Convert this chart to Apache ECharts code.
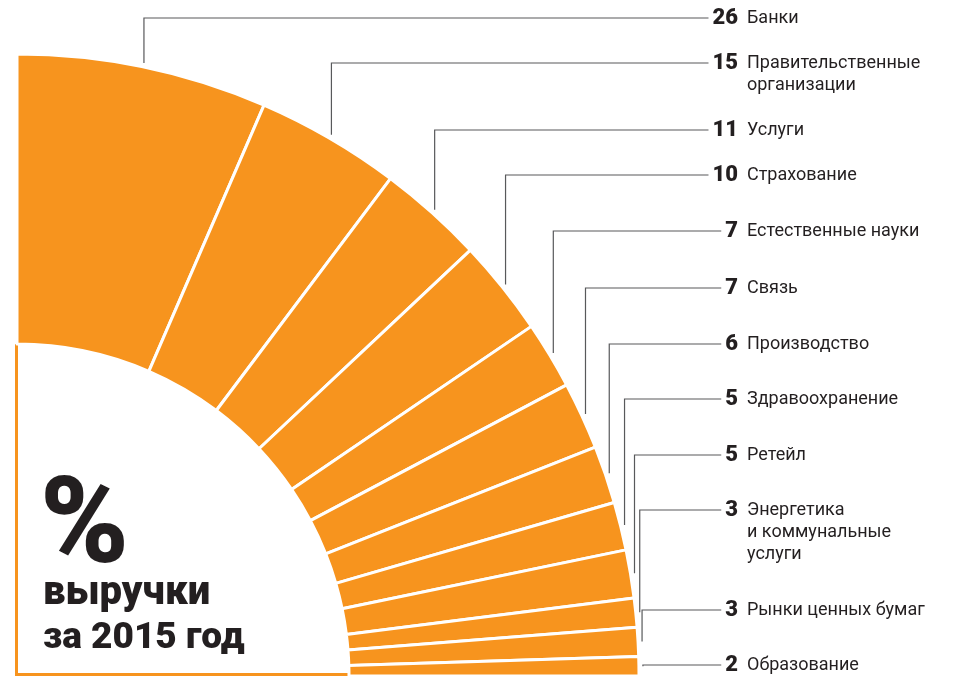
<!DOCTYPE html>
<html>
<head>
<meta charset="utf-8">
<script src="https://cdn.jsdelivr.net/npm/echarts@6/dist/echarts.min.js"></script>
<style>
html,body{margin:0;padding:0;background:#fff;}
#wrap{width:954px;height:676px;}
</style>
</head>
<body>
<div id="wrap"></div>
<script>
// доля выручки по отраслям, %
var sectors = ['Банки', 'Правительственные\nорганизации', 'Услуги', 'Страхование',
    'Естественные науки', 'Связь', 'Производство', 'Здравоохранение', 'Ретейл',
    'Энергетика\nи коммунальные\nуслуги', 'Рынки ценных бумаг', 'Образование'];
var shares = [26, 15, 11, 10, 7, 7, 6, 5, 5, 3, 3, 2];

// где стоят подписи справа (y первой строки)
var labelY = [18, 63, 130, 175, 231, 288, 344, 399, 455, 510, 610, 665];

var orange = '#f7941e';
var ink = '#231f20';
var cx = 17, cy = 676;
var numRight = 738, numCol = 42, gap = 9;
var numFont = '900 22px Roboto';

var ctx = document.createElement('canvas').getContext('2d');
ctx.font = numFont;
function numW(v) {
    return ctx.measureText(String(v)).width;
}

var myChart = echarts.init(document.getElementById('wrap'));

var data = [];
sectors.forEach(function(name, i) {
    data.push({name: name, value: shares[i]});
});

var rich = {
    t: {fontFamily: 'Roboto', fontSize: 18, color: ink, lineHeight: 22,
        padding: [0, 0, 0, gap]},
    t2: {fontFamily: 'Roboto', fontSize: 18, color: ink, lineHeight: 22,
        padding: [0, 0, 0, numCol + gap]}
};
// число прижато вправо к колонке шириной numCol
shares.forEach(function(v) {
    var key = 'n' + String(v).length;
    if (!rich[key]) {
        rich[key] = {fontFamily: 'Roboto', fontWeight: 900, fontSize: 22, color: ink,
            lineHeight: 22, padding: [0, 0, 0, numCol - numW(v)]};
    }
});

var option = {
    animation: false,
    series: [{
        type: 'pie',
        center: [cx, cy],
        radius: [332, 622],
        startAngle: 90,
        endAngle: 0,
        clockwise: true,
        avoidLabelOverlap: false,
        data: data,
        itemStyle: {
            color: orange,
            borderColor: '#fff',
            borderWidth: 3
        },
        label: {
            show: true,
            position: 'outside',
            formatter: function(p) {
                var lines = p.name.split('\n');
                var s = '{n' + String(p.value).length + '|' + p.value + '}{t|' + lines[0] + '}';
                for (var k = 1; k < lines.length; k++) {
                    s += '\n{t2|' + lines[k] + '}';
                }
                return s;
            },
            rich: rich
        },
        labelLine: {
            show: true,
            length: 10,
            length2: 10,
            lineStyle: {color: '#58595b', width: 1.2}
        },
        labelLayout: function(params) {
            var i = params.dataIndex;
            var p = params.labelLinePoints[0];
            var dx = p[0] - cx, dy = p[1] - cy;
            var len = Math.sqrt(dx * dx + dy * dy);
            var sx = p[0] + dx / len * 4, sy = p[1] + dy / len * 4;
            var y = labelY[i];
            return {
                x: numRight - numCol,
                y: y - 11,
                align: 'left',
                verticalAlign: 'top',
                labelLinePoints: [[sx, sy], [sx, y], [numRight - numW(shares[i]) - 4, y]]
            };
        }
    }],
    graphic: [
        {type: 'rect', shape: {x: 15, y: 344, width: 3, height: 332}, style: {fill: orange}},
        {type: 'rect', shape: {x: 15, y: 673, width: 334, height: 3}, style: {fill: orange}},
        {type: 'text', left: 40, top: 472, style: {text: '%', font: '900 120px Roboto', fill: ink}},
        {type: 'text', left: 43, top: 574, style: {text: 'выручки', font: '900 40px Roboto', fill: ink}},
        {type: 'text', left: 43, top: 620, style: {text: 'за 2015 год', font: '900 37px Roboto', fill: ink}}
    ]
};
myChart.setOption(option);
</script>
</body>
</html>
